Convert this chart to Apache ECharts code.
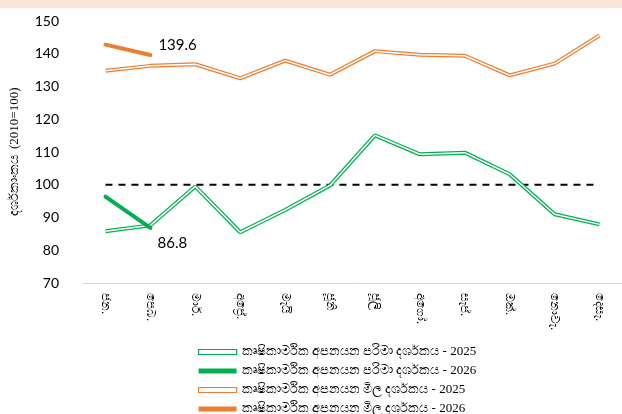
<!DOCTYPE html>
<html>
<head>
<meta charset="utf-8">
<script src="https://cdn.jsdelivr.net/npm/echarts@6/dist/echarts.min.js"></script>
<style>
  html, body { margin: 0; padding: 0; background: #fff; }
  #chart { width: 622px; height: 414px; }
</style>
</head>
<body>
<div id="chart"></div>
<script>
const months = ['ජන.', 'පෙබ.', 'මාර්.', 'අප්‍රේ.', 'මැයි', 'ජූනි', 'ජූලි', 'අගෝ.', 'සැප්.', 'ඔක්.', 'නොවැ.', 'දෙසැ.']
const volume2025 = [85.8, 87.6, 99.5, 85.5, 92.3, 99.8, 115.1, 109.3, 109.8, 103.2, 91.0, 87.9]
const volume2026 = [96.4, 86.8]
const price2025 = [134.8, 136.3, 136.8, 132.5, 137.9, 133.6, 140.8, 139.7, 139.4, 133.4, 137.0, 145.6]
const price2026 = [142.8, 139.6]
const baseLine = [100, 100, 100, 100, 100, 100, 100, 100, 100, 100, 100, 100]

const names = [
  'කෘෂිකාර්මික අපනයන පරිමා දර්ශකය - 2025',
  'කෘෂිකාර්මික අපනයන පරිමා දර්ශකය - 2026',
  'කෘෂිකාර්මික අපනයන මිල දර්ශකය - 2025',
  'කෘෂිකාර්මික අපනයන මිල දර්ශකය - 2026',
]
const green = '#00b050'
const orange = '#ed7d31'

const chart = echarts.init(document.getElementById('chart'))

// label only the last point of the 2026 lines
function lastLabel(arr) {
  return p => (p.dataIndex === arr.length - 1 ? String(arr[p.dataIndex].toFixed(1)) : '')
}

chart.setOption({
  animation: false,
  graphic: [
    { type: 'rect', left: 0, top: 0, shape: { width: 622, height: 8 }, style: { fill: '#fbe4d5' } },
  ],
  grid: { left: 80, right: -10, top: 21, bottom: 131 },
  legend: {
    orient: 'vertical',
    left: 193,
    top: 340,
    height: 90,
    itemGap: 5,
    itemWidth: 38,
    itemHeight: 5,
    textStyle: { fontFamily: 'Liberation Serif', fontSize: 13, lineHeight: 14, color: '#000' },
    data: [
      { name: names[0], icon: 'rect', itemStyle: { color: '#fff', borderColor: green, borderWidth: 1.2 } },
      { name: names[1], icon: 'rect', itemStyle: { color: green, borderWidth: 0 } },
      { name: names[2], icon: 'rect', itemStyle: { color: '#fff', borderColor: orange, borderWidth: 1.2 } },
      { name: names[3], icon: 'rect', itemStyle: { color: orange, borderWidth: 0 } },
    ],
  },
  xAxis: {
    type: 'category',
    data: months,
    boundaryGap: true,
    axisLine: { lineStyle: { color: '#d9d9d9', width: 1 } },
    axisTick: { show: false },
    axisLabel: { rotate: -90, color: '#000', fontSize: 12, margin: 10 },
  },
  yAxis: {
    type: 'value',
    min: 70,
    max: 150,
    interval: 10,
    name: 'දර්ශකාංකය  (2010=100)',
    nameLocation: 'middle',
    nameGap: 62,
    nameTextStyle: { color: '#000', fontSize: 13, fontFamily: 'Liberation Serif' },
    axisLine: { show: false },
    axisTick: { show: false },
    splitLine: { show: false },
    axisLabel: { color: '#000', fontSize: 14, fontFamily: 'Lato', margin: 24 },
  },
  series: [
    {
      name: 'base',
      type: 'line',
      data: baseLine,
      symbol: 'none',
      silent: true,
      lineStyle: { color: '#000', width: 2, type: [7, 6] },
      z: 1,
    },
    {
      name: names[0],
      type: 'line',
      data: volume2025,
      symbol: 'none',
      itemStyle: { color: green },
      lineStyle: { color: green, width: 4 },
      z: 2,
    },
    {
      name: 'volume2025_inner',
      type: 'line',
      data: volume2025,
      symbol: 'none',
      silent: true,
      lineStyle: { color: '#fff', width: 1.5 },
      z: 3,
    },
    {
      name: names[1],
      type: 'line',
      data: volume2026,
      symbol: 'circle',
      symbolSize: 2,
      itemStyle: { color: green },
      lineStyle: { color: green, width: 4, cap: 'round' },
      label: {
        show: true,
        position: 'bottom',
        offset: [22, 2],
        fontSize: 15,
        fontFamily: 'Lato',
        color: '#000',
        formatter: lastLabel(volume2026),
      },
      z: 4,
    },
    {
      name: names[2],
      type: 'line',
      data: price2025,
      symbol: 'none',
      itemStyle: { color: orange },
      lineStyle: { color: orange, width: 4 },
      z: 2,
    },
    {
      name: 'price2025_inner',
      type: 'line',
      data: price2025,
      symbol: 'none',
      silent: true,
      lineStyle: { color: '#fff', width: 1.5 },
      z: 3,
    },
    {
      name: names[3],
      type: 'line',
      data: price2026,
      symbol: 'circle',
      symbolSize: 2,
      itemStyle: { color: orange },
      lineStyle: { color: orange, width: 4, cap: 'round' },
      label: {
        show: true,
        position: 'right',
        offset: [2, -10],
        fontSize: 15,
        fontFamily: 'Lato',
        color: '#000',
        formatter: lastLabel(price2026),
      },
      z: 4,
    },
  ],
})
</script>
</body>
</html>
